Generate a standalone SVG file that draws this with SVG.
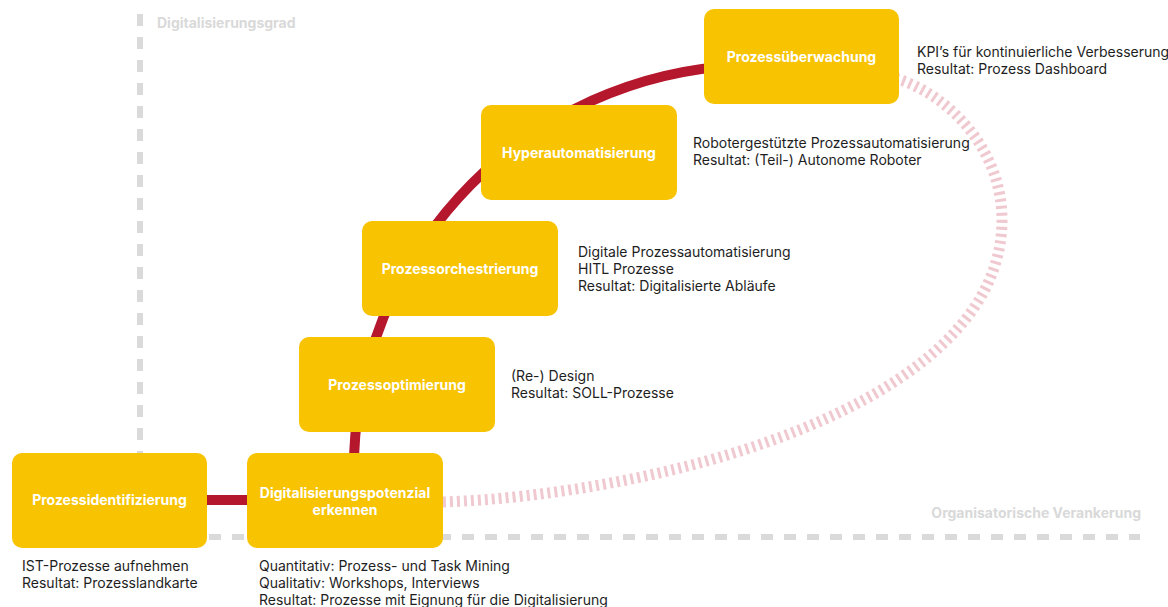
<svg xmlns="http://www.w3.org/2000/svg" width="1168" height="607" viewBox="0 0 1168 607">
  <style>
    .box { fill: #f8c300; }
    .lbl { font-family: Inter, "Noto Sans", sans-serif; font-weight: 700; font-size: 14px; fill: #ffffff; text-anchor: middle; }
    .desc { font-family: Inter, "Noto Sans", sans-serif; font-weight: 400; font-size: 14px; fill: #1e1e1e; }
    .axis { stroke: #dadada; stroke-width: 6; fill: none; stroke-dasharray: 12 11; }
    .axislbl { font-family: Inter, "Noto Sans", sans-serif; font-weight: 700; font-size: 14px; fill: #d9d9d9; }
    .flow { stroke: #b5172d; stroke-width: 10; fill: none; }
    .loop { stroke: #efc9cf; stroke-width: 11; fill: none; stroke-dasharray: 3 4; }
  </style>

  <!-- axes -->
  <g id="axes">
    <line class="axis" x1="140" y1="14" x2="140" y2="537"/>
    <line class="axis" x1="140" y1="537" x2="1140" y2="537"/>
    <text class="axislbl" x="157" y="28">Digitalisierungsgrad</text>
    <text class="axislbl" x="1141" y="518" text-anchor="end">Organisatorische Verankerung</text>
  </g>

  <!-- connectors -->
  <g id="connectors">
    <line class="flow" x1="200" y1="500" x2="255" y2="500"/>
    <path class="flow" d="M 354.5 490 A 404 404 0 0 1 740 65.4"/>
    <path class="loop" d="M 443 502 C 650 495 1002 410 1002 220 C 1002 150 950 95 895 78"/>
  </g>

  <!-- nodes -->
  <g id="n-identifizierung">
    <rect class="box" x="12" y="453" width="195" height="95" rx="10"/>
    <text class="lbl" x="109.5" y="505">Prozessidentifizierung</text>
    <text class="desc" x="22" y="571">IST-Prozesse aufnehmen</text>
    <text class="desc" x="22" y="588">Resultat: Prozesslandkarte</text>
  </g>

  <g id="n-potenzial">
    <rect class="box" x="247" y="453" width="196" height="95" rx="10"/>
    <text class="lbl" x="345" y="497.5">Digitalisierungspotenzial</text>
    <text class="lbl" x="345" y="514.5">erkennen</text>
    <text class="desc" x="259" y="571">Quantitativ: Prozess- und Task Mining</text>
    <text class="desc" x="259" y="588">Qualitativ: Workshops, Interviews</text>
    <text class="desc" x="259" y="605">Resultat: Prozesse mit Eignung für die Digitalisierung</text>
  </g>

  <g id="n-optimierung">
    <rect class="box" x="299" y="337" width="196" height="95" rx="10"/>
    <text class="lbl" x="397" y="389.5">Prozessoptimierung</text>
    <text class="desc" x="511" y="381">(Re-) Design</text>
    <text class="desc" x="511" y="398">Resultat: SOLL-Prozesse</text>
  </g>

  <g id="n-orchestrierung">
    <rect class="box" x="362" y="221" width="196" height="95" rx="10"/>
    <text class="lbl" x="460" y="273.5">Prozessorchestrierung</text>
    <text class="desc" x="578" y="256.5">Digitale Prozessautomatisierung</text>
    <text class="desc" x="578" y="273.5">HITL Prozesse</text>
    <text class="desc" x="578" y="290.5">Resultat: Digitalisierte Abläufe</text>
  </g>

  <g id="n-hyperautomatisierung">
    <rect class="box" x="481" y="105" width="196" height="95" rx="10"/>
    <text class="lbl" x="579" y="157.5">Hyperautomatisierung</text>
    <text class="desc" x="693" y="148">Robotergestützte Prozessautomatisierung</text>
    <text class="desc" x="693" y="165">Resultat: (Teil-) Autonome Roboter</text>
  </g>

  <g id="n-ueberwachung">
    <rect class="box" x="704" y="9" width="195" height="95" rx="10"/>
    <text class="lbl" x="801.5" y="61.5">Prozessüberwachung</text>
    <text class="desc" x="917" y="57">KPI’s für kontinuierliche Verbesserung</text>
    <text class="desc" x="917" y="74">Resultat: Prozess Dashboard</text>
  </g>
</svg>
